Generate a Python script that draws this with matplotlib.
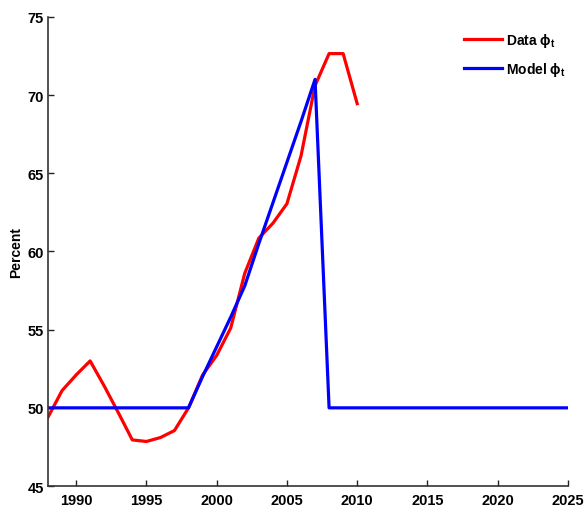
import numpy as np
import matplotlib
matplotlib.use("Agg")
import matplotlib.pyplot as plt

plt.rcParams["font.family"] = ["Liberation Sans", "DejaVu Sans"]
plt.rcParams["font.weight"] = "bold"
plt.rcParams["mathtext.fontset"] = "custom"
plt.rcParams["mathtext.rm"] = "Liberation Sans:bold"

# ---- data ----
data_years = [1988, 1989, 1990, 1991, 1992, 1993, 1994, 1995, 1996, 1997,
              1998, 1999, 2000, 2001, 2002, 2003, 2004, 2005, 2006, 2007,
              2008, 2009, 2010]
data_phi = [49.4, 51.1, 52.1, 53.0, 51.4, 49.7, 47.95, 47.85, 48.1, 48.55,
            50.0, 52.1, 53.35, 55.1, 58.6, 60.85, 61.8, 63.05, 66.1, 70.6,
            72.65, 72.65, 69.45]

model_years = [1988, 1998, 1999, 2000, 2001, 2002, 2003, 2004, 2005, 2006,
               2007, 2008, 2025]
model_phi = [50.0, 50.0, 52.0, 53.9, 55.8, 57.8, 60.5, 63.1, 65.7, 68.3,
             71.0, 50.0, 50.0]

xticks = [1990, 1995, 2000, 2005, 2010, 2015, 2020, 2025]
yticks = [45, 50, 55, 60, 65, 70, 75]

fig = plt.figure(figsize=(5.85, 5.1), dpi=100)
ax = fig.add_axes([0.082, 0.045, 0.889, 0.92])

ax.plot(data_years, data_phi, color="#ff0000", lw=2.3,
        label="Data ϕ$_\\mathrm{t}$")
ax.plot(model_years, model_phi, color="#0000ff", lw=2.3,
        label="Model ϕ$_\\mathrm{t}$")

ax.set_xlim(1988, 2025)
ax.set_ylim(45, 75)
ax.set_xticks(xticks)
ax.set_yticks(yticks)
ax.tick_params(direction="in", length=4, width=1, labelsize=10.5,
               colors="#222222", labelcolor="black")
ax.tick_params(axis="x", pad=5)
ax.tick_params(axis="y", pad=3)
ax.spines["top"].set_visible(False)
ax.spines["right"].set_visible(False)
for s in ("left", "bottom"):
    ax.spines[s].set_color("#333333")
    ax.spines[s].set_linewidth(1.2)
for lbl in ax.get_xticklabels() + ax.get_yticklabels():
    lbl.set_fontweight("bold")

ax.set_ylabel("Percent", fontsize=10, fontweight="bold", labelpad=3)

leg = ax.legend(loc="upper left", bbox_to_anchor=(464 / 585, 1 - 32 / 510),
                bbox_transform=fig.transFigure, frameon=False,
                fontsize=10, handlelength=2.7, handletextpad=0.3,
                labelspacing=0.8, borderpad=0, borderaxespad=0)
for t in leg.get_texts():
    t.set_fontweight("bold")

fig.savefig("out.png", dpi=100)
